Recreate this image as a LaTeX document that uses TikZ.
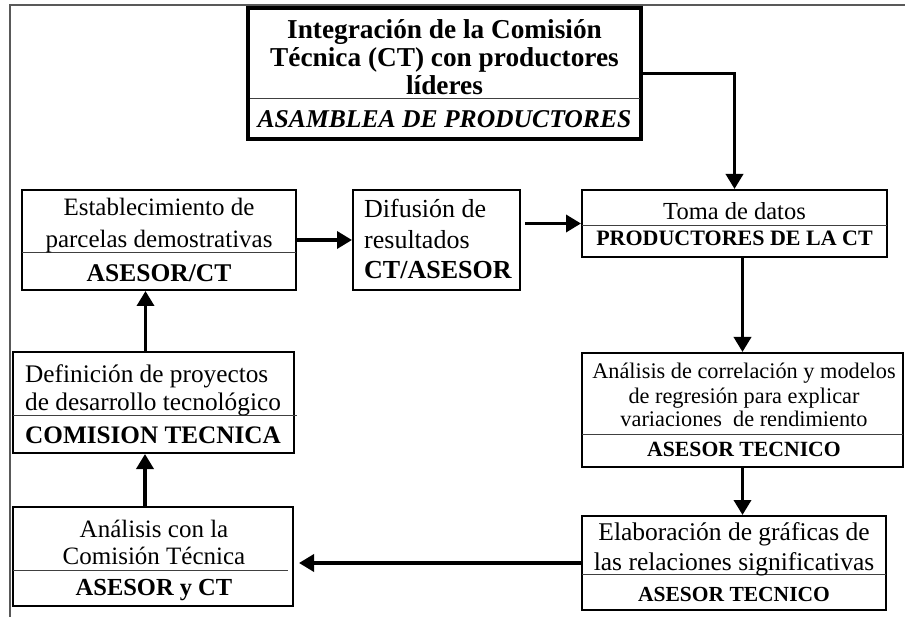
\documentclass[tikz,border=0pt]{standalone}
\usepackage{fontspec}
\setmainfont{Liberation Serif}
\usetikzlibrary{arrows.meta}
\def\fs#1{\fontsize{#1}{#1}\selectfont}

\tikzset{
	caja/.style={draw, rectangle, line width=2pt, inner sep=0pt},
	flecha/.style={line width=3.5pt, -{Triangle[length=15pt, width=17pt]}},
	divisor/.style={line width=1pt, color=black!75},
	marco/.style={line width=1.5pt, color=black!65},
	linea/.style={anchor=base, inner sep=0pt}
}

\begin{document}
\begin{tikzpicture}[x=1pt, y=-1pt]
			%%%%% START %%%%%
			\useasboundingbox (0, 0) rectangle (905, 617);
			
			\draw[marco] (905, 5) -- (10, 5) -- (10, 617);
			
			% cajas
			\node[caja, line width=3.2pt, minimum width=393, minimum height=131] (integ) at (444.5, 73.5) {};
			\node[caja, minimum width=274, minimum height=100] (estab) at (159, 240) {};
			\node[caja, minimum width=167, minimum height=100] (difu) at (436.5, 240) {};
			\node[caja, minimum width=305, minimum height=67] (toma) at (734.5, 223.5) {};
			\node[caja, minimum width=321, minimum height=114] (corr) at (742.5, 410) {};
			\node[caja, minimum width=304, minimum height=94] (graf) at (734, 563) {};
			\node[caja, minimum width=280, minimum height=99] (acon) at (153, 556.5) {};
			\node[caja, minimum width=281, minimum height=101] (defi) at (153.5, 402.5) {};
			
			% divisiones
			\draw[divisor] (250, 99) -- (640, 99);
			\draw[divisor] (22, 253) -- (296, 253);
			\draw[divisor] (582, 226) -- (887, 226);
			\draw[divisor] (582, 434) -- (903, 434);
			\draw[divisor] (582, 574) -- (886, 574);
			\draw[divisor] (13, 416) -- (297, 416);
			\draw[divisor] (13, 570) -- (288, 570);
			
			% textos
			\node[linea, font=\bfseries\fs{27.3}] (intega) at (444.5, 39) {Integración de la Comisión};
			\node[linea, font=\bfseries\fs{27.3}] (integb) at (444.5, 67) {Técnica (CT) con productores};
			\node[linea, font=\bfseries\fs{27.3}] (integc) at (444.5, 95) {líderes};
			\node[linea, font=\bfseries\itshape\fs{25.6}] (integd) at (444.5, 128) {ASAMBLEA DE PRODUCTORES};
			
			\node[linea, font=\fs{25}] (estaba) at (159, 216) {Establecimiento de};
			\node[linea, font=\fs{25}] (estabb) at (159, 248) {parcelas demostrativas};
			\node[linea, font=\bfseries\fs{25.5}] (estabc) at (159, 282) {ASESOR/CT};
			
			\node[linea, anchor=base west, font=\fs{26}] (difua) at (364, 218) {Difusión de};
			\node[linea, anchor=base west, font=\fs{26}] (difub) at (364, 249) {resultados};
			\node[linea, anchor=base west, font=\bfseries\fs{26}] (difuc) at (364, 279) {CT/ASESOR};
			
			\node[linea, font=\fs{24.5}] (tomaa) at (734.5, 220) {Toma de datos};
			\node[linea, font=\bfseries\fs{22}] (tomab) at (734.5, 246) {PRODUCTORES DE LA CT};
			
			\node[linea, font=\fs{22.3}] (corra) at (744, 379) {Análisis de correlación y modelos};
			\node[linea, font=\fs{22.3}] (corrb) at (744, 403) {de regresión para explicar};
			\node[linea, font=\fs{22.3}] (corrc) at (744, 427) {variaciones\ \ de rendimiento};
			\node[linea, font=\bfseries\fs{21.7}] (corrd) at (744, 456) {ASESOR TECNICO};
			
			\node[linea, font=\fs{25.5}] (grafa) at (734, 540) {Elaboración de gráficas de};
			\node[linea, font=\fs{25.5}] (grafb) at (734, 570) {las relaciones significativas};
			\node[linea, font=\bfseries\fs{21.5}] (grafc) at (734, 601) {ASESOR TECNICO};
			
			\node[linea, anchor=base west, font=\fs{25.3}] (defia) at (25, 383) {Definición de proyectos};
			\node[linea, anchor=base west, font=\fs{25.3}] (defib) at (25, 410) {de desarrollo tecnológico};
			\node[linea, anchor=base west, font=\bfseries\fs{25.2}] (defic) at (25, 443) {COMISION TECNICA};
			
			\node[linea, font=\fs{25}] (acona) at (154, 537) {Análisis con la};
			\node[linea, font=\fs{25}] (aconb) at (154, 564) {Comisión Técnica};
			\node[linea, font=\bfseries\fs{24.5}] (aconc) at (154, 595) {ASESOR y CT};
			
			% flechas
			\draw[flecha] (integ.east) -| (toma.north);
			\draw[flecha] (estab.east) -- (difu.west);
			\draw[flecha] ([xshift=4pt]difu.east |- toma.west) -- (toma.west);
			\draw[flecha] (toma.south -| corr.north) -- (corr.north);
			\draw[flecha] (corr.south) -- (corr.south |- graf.north);
			\draw[flecha, shorten >=5pt] (graf.west) -- (graf.west -| acon.east);
			\draw[flecha] ([xshift=-8pt]acon.north) -- ([xshift=-8pt]acon.north |- defi.south);
			\draw[flecha] ([xshift=-8pt]defi.north) -- ([xshift=-8pt]defi.north |- estab.south);
			
			%%%%% END %%%%%
\end{tikzpicture}
\end{document}
